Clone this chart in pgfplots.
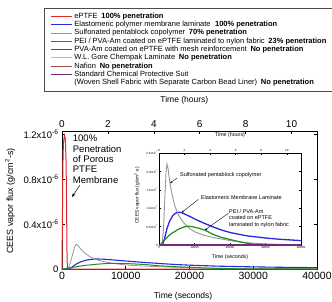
\documentclass[border=0pt]{standalone}
\usepackage{pgfplots}
\pgfplotsset{compat=1.18}
\usepackage{pgfplotstable}
\usetikzlibrary{arrows.meta}
\usepackage{fontspec}
\setmainfont{Liberation Sans}
\definecolor{cred}{RGB}{228,40,40}
\definecolor{cblue}{RGB}{40,40,225}
\definecolor{cgray}{RGB}{150,150,150}
\definecolor{cgreen}{RGB}{30,140,30}
\definecolor{cdark}{RGB}{80,80,80}
\definecolor{ccyan}{RGB}{110,220,220}
\definecolor{cbrown}{RGB}{165,75,75}
\definecolor{cpurple}{RGB}{120,40,120}

\pgfplotstableread{
t f
0 0
60 0.4e-6
130 0.9e-6
220 1.12e-6
380 1.185e-6
520 1.16e-6
640 0.96e-6
720 0.55e-6
790 0.12e-6
850 0.01e-6
1000 0
40000 0
}\redtab
\pgfplotstableread{
t f
0 0
900 0
1300 0.5e-7
1700 1.4e-7
2000 2.0e-7
2250 2.2e-7
2550 2.08e-7
2900 1.8e-7
3400 1.5e-7
3900 1.28e-7
4500 1.05e-7
5300 0.85e-7
6200 0.70e-7
7300 0.57e-7
8500 0.46e-7
10000 0.36e-7
12500 0.27e-7
15000 0.21e-7
20000 0.12e-7
25000 0.06e-7
30000 0.03e-7
35000 0.015e-7
40000 0.01e-7
}\graytab
\pgfplotstableread{
t f
0 0
1000 0
1500 0.15e-7
2250 0.45e-7
3000 0.65e-7
3900 0.80e-7
4600 0.86e-7
5300 0.89e-7
6300 0.88e-7
7500 0.83e-7
9000 0.76e-7
10000 0.71e-7
12500 0.60e-7
15300 0.49e-7
17500 0.41e-7
20000 0.34e-7
24700 0.25e-7
30000 0.19e-7
34100 0.155e-7
40000 0.12e-7
}\bluetab
\pgfplotstableread{
t f
0 0
300 0
1500 0.13e-7
2500 0.23e-7
3600 0.32e-7
4500 0.37e-7
5350 0.42e-7
6500 0.47e-7
7500 0.50e-7
8200 0.51e-7
9300 0.50e-7
11000 0.46e-7
13000 0.40e-7
15200 0.29e-7
17500 0.21e-7
20000 0.15e-7
23000 0.08e-7
26000 0.03e-7
28500 0.01e-7
32000 0.003e-7
40000 0
}\greentab
\pgfplotstableread{
t f
0 0
40000 0
}\zerotab

\begin{document}
\begin{tikzpicture}
% ---------------- main axis ----------------
\begin{axis}[
  at={(62pt,32pt)}, anchor=south west, scale only axis,
  width=255pt, height=138pt,
  xmin=0, xmax=40000, ymin=0, ymax=1.227e-6,
  clip=false,
  axis line style={black, line width=0.7pt},
  tick align=inside, major tick length=3pt,
  tick style={black, line width=0.6pt},
  xtick pos=bottom, ytick pos=both,
  scaled x ticks=false, scaled y ticks=false,
  /pgf/number format/assume math mode=true,
  xtick={0,10000,20000,30000,40000},
  xticklabels={0,10000,20000,30000,40000},
  ytick={0,0.4e-6,0.8e-6,1.2e-6},
  yticklabels={0,0.4x10\textsuperscript{-6},0.8x10\textsuperscript{-6},1.2x10\textsuperscript{-6}},
  xticklabel style={font=\fontsize{10.5}{12}\selectfont},
  yticklabel style={font=\fontsize{9.5}{11}\selectfont},
  xlabel={Time (seconds)},
  xlabel style={at={(rel axis cs:0.475,-0.2)}, anchor=center, font=\fontsize{8.5}{10}\selectfont},
  ylabel={CEES vapor flux (g/cm\textsuperscript{2}-s)},
  ylabel style={at={(rel axis cs:-0.2039,0.493)}, anchor=center, rotate=0, font=\fontsize{9}{11}\selectfont},
  legend cell align=left,
  legend image code/.code={\path (-2pt,0pt); \draw[#1] (0pt,0pt) -- (21pt,0pt);},
  legend style={at={(-0.0706,1.8913)}, anchor=north west,
    draw=black!70, line width=0.5pt, fill=white,
    font=\fontsize{7.5}{8}\selectfont,
    inner xsep=4pt, inner ysep=4pt, row sep=0.2pt,
    nodes={inner ysep=0.5pt, inner xsep=2pt, text height=5.6pt, text depth=1.5pt},
    /tikz/every even column/.append style={column sep=4pt}},
]
\addplot[cred, line width=1pt] table[x=t,y=f] {\redtab};
\addlegendentry{ePTFE\hspace{0.5em}\textbf{100\% penetration}}
\addplot[cblue, line width=1.1pt] table[x=t,y=f] {\bluetab};
\addlegendentry{Elastomeric polymer membrane laminate\hspace{0.6em}\textbf{100\% penetration}}
\addplot[cgray, line width=0.8pt] table[x=t,y=f] {\graytab};
\addlegendentry{Sulfonated pentablock copolymer\hspace{0.5em}\textbf{70\% penetration}}
\addplot[cgreen, line width=1pt] table[x=t,y=f] {\greentab};
\addlegendentry{PEI / PVA-Am coated on ePTFE laminated to nylon fabric\hspace{0.5em}\textbf{23\% penetration}}
\addplot[cdark, line width=0.8pt] table[x=t,y=f] {\zerotab};
\addlegendentry{PVA-Am coated on ePTFE with mesh reinforcement\hspace{0.5em}\textbf{No penetration}}
\addplot[ccyan, line width=0.8pt] table[x=t,y=f] {\zerotab};
\addlegendentry{W.L. Gore Chempak Laminate\hspace{0.5em}\textbf{No penetration}}
\addplot[cbrown, line width=0.9pt] table[x=t,y=f] {\zerotab};
\addlegendentry{Nafion\hspace{0.5em}\textbf{No penetration}}
\addplot[cpurple, line width=1pt] table[x=t,y=f] {\zerotab};
\addlegendentry{Standard Chemical Protective Suit}
\addlegendimage{empty legend}
\addlegendentry{(Woven Shell Fabric with Separate Carbon Bead Liner)\hspace{0.5em}\textbf{No penetration}}
\node[anchor=north west, align=left, inner sep=0pt, font=\fontsize{9.5}{10.3}\selectfont]
  at (axis cs:1680,1.19e-6) {100\%\\Penetration\\of Porous\\PTFE\\Membrane};
\draw[line width=0.5pt, -{Stealth[length=4pt,width=3pt]}] (axis cs:2820,0.747e-6) -- (axis cs:1570,0.64e-6);
\end{axis}
% ---------------- main top (hours) axis ----------------
\begin{axis}[
  at={(62pt,32pt)}, anchor=south west, scale only axis,
  width=255pt, height=138pt,
  xmin=0, xmax=11.1111, ymin=0, ymax=1,
  axis x line*=top, axis y line=none,
  axis line style={black, line width=0.7pt},
  tick align=inside, major tick length=3pt,
  tick style={black, line width=0.6pt},
  /pgf/number format/assume math mode=true,
  xtick={0,2,4,6,8,10},
  xticklabel style={font=\fontsize{10}{12}\selectfont},
  xlabel={Time (hours)},
  xlabel style={at={(rel axis cs:0.48,1.2246)}, anchor=center, font=\fontsize{8.5}{10}\selectfont},
]
\end{axis}
% ---------------- inset axis ----------------
\begin{axis}[
  at={(159pt,56pt)}, anchor=south west, scale only axis,
  width=142pt, height=92pt,
  xmin=0, xmax=40000, ymin=0, ymax=2.5e-7,
  clip=false,
  axis line style={black, line width=0.6pt},
  tick align=inside, major tick length=2pt,
  tick style={black, line width=0.4pt},
  xtick pos=bottom, ytick pos=both,
  scaled x ticks=false, scaled y ticks=false,
  /pgf/number format/assume math mode=true,
  xtick={0,10000,20000,30000,40000},
  xticklabels={0,10000,20000,30000,40000},
  ytick={0,0.5e-7,1e-7,1.5e-7,2e-7,2.5e-7},
  yticklabels={0,0.5x10\textsuperscript{-7},1.0x10\textsuperscript{-7},1.5x10\textsuperscript{-7},2.0x10\textsuperscript{-7},2.5x10\textsuperscript{-7}},
  tick label style={font=\fontsize{3}{3.5}\selectfont, inner sep=1pt},
  xlabel={Time (seconds)},
  xlabel style={at={(rel axis cs:0.5,-0.13)}, anchor=center, font=\fontsize{5.3}{6}\selectfont},
  ylabel={CEES vapor flux (g/cm\textsuperscript{2}-s)},
  ylabel style={at={(rel axis cs:-0.155,0.54)}, anchor=center, rotate=0, font=\fontsize{4.8}{6}\selectfont},
]
\addplot[cblue, line width=1.3pt] table[x=t,y=f] {\bluetab};
\addplot[cgray, line width=0.9pt] table[x=t,y=f] {\graytab};
\addplot[cgreen, line width=1.2pt] table[x=t,y=f] {\greentab};
\addplot[cdark, line width=0.8pt] table[x=t,y=f] {\zerotab};
\addplot[ccyan, line width=0.8pt] table[x=t,y=f] {\zerotab};
\addplot[cbrown, line width=1pt] table[x=t,y=f] {\zerotab};
\addplot[cpurple, line width=1.3pt] table[x=t,y=f] {\zerotab};
\node[anchor=west, inner sep=0pt, font=\fontsize{5.5}{6.3}\selectfont]
  at (axis cs:5900,1.90e-7) {Sulfonated pentablock copolymer};
\draw[line width=0.4pt, -{Stealth[length=2.5pt,width=2pt]}] (axis cs:5070,1.82e-7) -- (axis cs:3100,1.68e-7);
\node[anchor=west, inner sep=0pt, font=\fontsize{5.5}{6.3}\selectfont]
  at (axis cs:11750,1.30e-7) {Elastomeric Membrane Laminate};
\draw[line width=0.4pt, -{Stealth[length=2.5pt,width=2pt]}] (axis cs:11070,1.24e-7) -- (axis cs:6390,0.88e-7);
\node[anchor=north west, align=left, inner sep=0pt, font=\fontsize{5.5}{6.3}\selectfont]
  at (axis cs:19720,0.965e-7) {PEI / PVA-Am\\coated on ePTFE\\laminated to nylon fabric};
\draw[line width=0.4pt, -{Stealth[length=2.5pt,width=2pt]}] (axis cs:19530,0.86e-7) -- (axis cs:12960,0.41e-7);
\end{axis}
% ---------------- inset top (hours) axis ----------------
\begin{axis}[
  at={(159pt,56pt)}, anchor=south west, scale only axis,
  width=142pt, height=92pt,
  xmin=0, xmax=11.1111, ymin=0, ymax=1,
  axis x line*=top, axis y line=none,
  axis line style={black, line width=0.6pt},
  tick align=inside, major tick length=2pt,
  tick style={black, line width=0.4pt},
  /pgf/number format/assume math mode=true,
  xtick={0,2,4,6,8,10},
  xticklabel style={font=\fontsize{3}{3.5}\selectfont, inner sep=1pt},
  xlabel={Time (hours)},
  xlabel style={at={(rel axis cs:0.5,1.196)}, anchor=center, font=\fontsize{5.3}{6}\selectfont},
]
\end{axis}
\pgfresetboundingbox
\path[use as bounding box] (0pt,0pt) rectangle (332pt,301pt);
\end{tikzpicture}
\end{document}
